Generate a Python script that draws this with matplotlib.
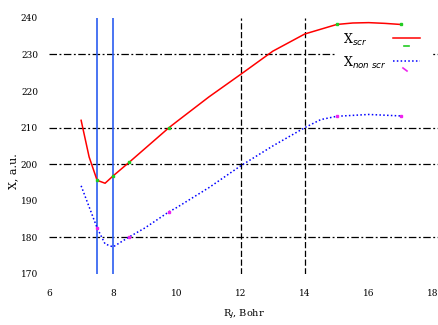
import matplotlib
matplotlib.use("Agg")
import matplotlib.pyplot as plt
from matplotlib.patches import Rectangle
from matplotlib.lines import Line2D

# bond length R_J (Bohr) and the two susceptibility curves
r_scr = [7.0, 7.25, 7.5, 7.75, 8.0, 8.5, 9.0, 9.5, 9.75, 10.0, 11.0, 12.0, 13.0, 14.0, 15.0, 15.5, 16.0, 16.5, 17.0]
x_scr = [212.0, 202.0, 195.6, 194.8, 196.8, 200.5, 204.3, 208.1, 210.0, 211.7, 218.4, 224.6, 230.9, 235.6, 238.2, 238.6, 238.7, 238.5, 238.2]
r_scr_pts = [7.5, 8.0, 8.5, 9.75, 15.0, 17.0]
x_scr_pts = [195.6, 196.8, 200.5, 210.0, 238.2, 238.2]

r_non = [7.0, 7.5, 7.75, 8.0, 8.5, 9.0, 9.75, 10.0, 11.0, 12.0, 13.0, 14.0, 14.5, 15.0, 16.0, 17.0]
x_non = [194.1, 182.6, 178.2, 177.4, 180.1, 182.6, 187.0, 188.2, 193.6, 199.6, 205.0, 210.0, 212.2, 213.1, 213.6, 213.2]
r_non_pts = [7.5, 8.5, 9.75, 15.0, 17.0]
x_non_pts = [182.6, 180.1, 187.0, 213.1, 213.2]

x_ticks = [6, 8, 10, 12, 14, 16, 18]
y_ticks = [170, 180, 190, 200, 210, 220, 230, 240]
h_lines = [180, 200, 210, 230]
v_black = [12, 14]
v_blue = [7.5, 8.0]

W, H = 439, 325
plt.rcParams['font.family'] = ['DejaVu Serif']

fig = plt.figure(figsize=(W / 100, H / 100), dpi=100)
ax = fig.add_axes([0.112, 0.157, 0.888, 0.788])

dash = (0, (6, 2, 1.5, 2))
for h in h_lines:
    ax.axhline(h, color='black', lw=0.9, ls=dash, zorder=1)
for v in v_black:
    ax.axvline(v, color='black', lw=0.9, ls=(0, (5, 2)), zorder=1)
for v in v_blue:
    ax.axvline(v, color='#2b5cf0', lw=1.2, zorder=2)

ax.plot(r_scr, x_scr, color='red', lw=1.1, zorder=3)
ax.plot(r_scr_pts, x_scr_pts, ls='none', marker='s', ms=2, color='#22cc22', zorder=4)
ax.plot(r_non, x_non, color='blue', lw=1.1, ls=(0, (1, 1.5)), zorder=3)
ax.plot(r_non_pts, x_non_pts, ls='none', marker='s', ms=2, color='#ee22ee', zorder=4)


# hand-made legend, placed in figure pixels
def fx(px):
    return px / W


def fy(py):
    return 1 - py / H


fig.patches.append(Rectangle((fx(335), fy(80)), fx(432) - fx(335), fy(28) - fy(80),
                             transform=fig.transFigure, facecolor='white',
                             edgecolor='none', zorder=5))
fig.text(fx(343), fy(40), 'X$_{scr}$', fontsize=9, va='center', zorder=6)
fig.text(fx(343), fy(63), 'X$_{non\\ scr}$', fontsize=9, va='center', zorder=6)
fig.lines.append(Line2D([fx(393), fx(420)], [fy(38), fy(38)], transform=fig.transFigure,
                        color='red', lw=1.1, zorder=6))
fig.lines.append(Line2D([fx(404), fx(409)], [fy(46), fy(46)], transform=fig.transFigure,
                        color='#22cc22', lw=1.2, zorder=6))
fig.lines.append(Line2D([fx(393), fx(420)], [fy(61), fy(61)], transform=fig.transFigure,
                        color='blue', lw=1.1, ls=(0, (1, 1.5)), zorder=6))
fig.lines.append(Line2D([fx(403), fx(407)], [fy(68), fy(71)], transform=fig.transFigure,
                        color='#ee22ee', lw=1.2, zorder=6))

ax.set_xlim(6, 18.2)
ax.set_ylim(170, 240)
ax.set_xticks(x_ticks)
ax.set_yticks(y_ticks)
ax.tick_params(length=0, labelsize=6.5)
ax.tick_params(axis='x', pad=11)
ax.tick_params(axis='y', pad=8)
for s in ax.spines.values():
    s.set_visible(False)

ax.set_xlabel('R$_J$, Bohr', fontsize=7)
ax.xaxis.set_label_coords(0.5, -0.13)
ax.set_ylabel('X, a.u.', fontsize=8)
ax.yaxis.set_label_coords(-0.08, 0.40)

fig.savefig('out.png', dpi=100)
